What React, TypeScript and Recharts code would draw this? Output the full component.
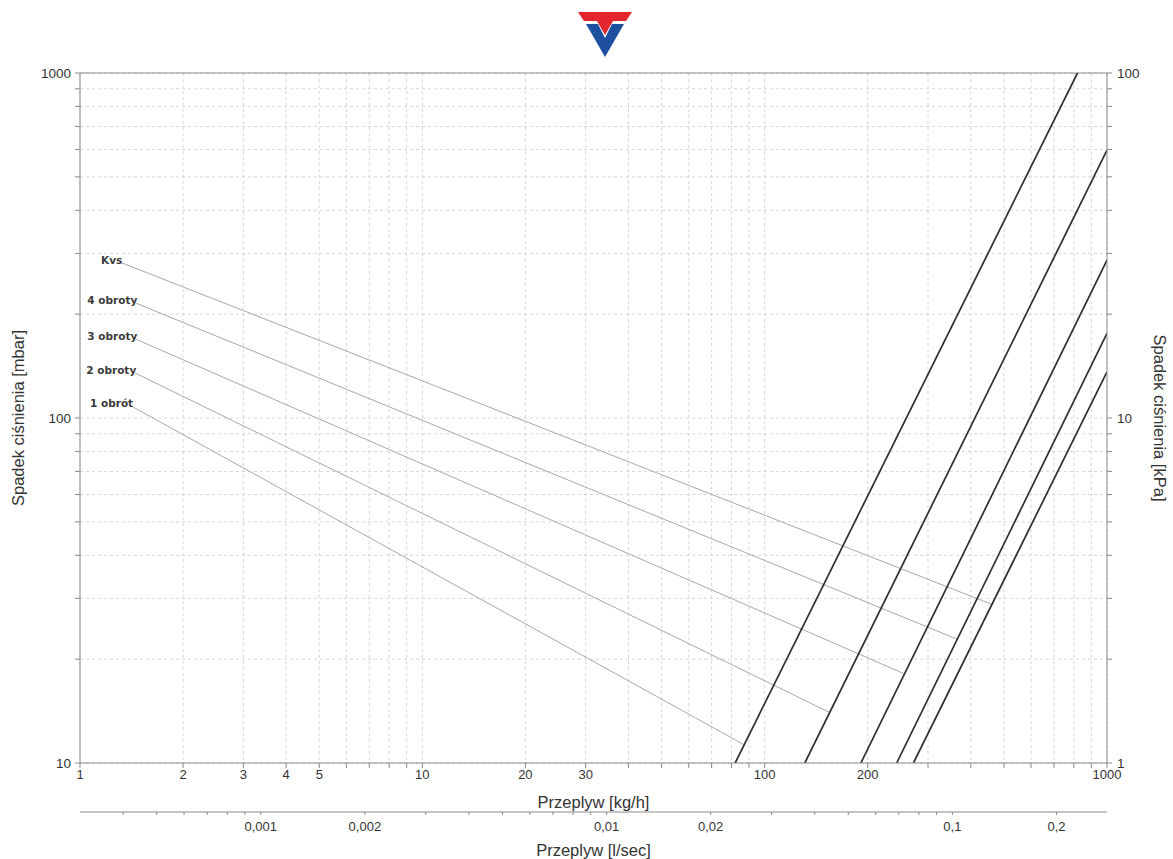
import { CartesianGrid, Line, LineChart, ReferenceLine, XAxis, YAxis } from 'recharts';

type Pt = { q: number; dp: number };

// flow [kg/h] against pressure drop [mbar]
const curve1: Pt[] = [
  { q: 82, dp: 10 },
  { q: 820, dp: 1000 },
];
const curve2: Pt[] = [
  { q: 131, dp: 10 },
  { q: 1000, dp: 598 },
];
const curve3: Pt[] = [
  { q: 191, dp: 10 },
  { q: 1000, dp: 287 },
];
const curve4: Pt[] = [
  { q: 243, dp: 10 },
  { q: 1000, dp: 176 },
];
const curveKvs: Pt[] = [
  { q: 272, dp: 10 },
  { q: 1000, dp: 136 },
];

// leader lines from each label down to its curve
const lead1: Pt[] = [
  { q: 1.42, dp: 108 },
  { q: 87, dp: 11.3 },
];
const lead2: Pt[] = [
  { q: 1.45, dp: 135 },
  { q: 155, dp: 14 },
];
const lead3: Pt[] = [
  { q: 1.46, dp: 169 },
  { q: 257, dp: 18.1 },
];
const lead4: Pt[] = [
  { q: 1.46, dp: 215 },
  { q: 367, dp: 22.8 },
];
const leadKvs: Pt[] = [
  { q: 1.32, dp: 282 },
  { q: 462, dp: 28.8 },
];

const openingNames = ['1 obrót', '2 obroty', '3 obroty', '4 obroty', 'Kvs'];
const curves = [curve1, curve2, curve3, curve4, curveKvs];
const leaders = [lead1, lead2, lead3, lead4, leadKvs];

const kgTicks = [
  1, 2, 3, 4, 5, 6, 7, 8, 9, 10, 20, 30, 40, 50, 60, 70, 80, 90, 100, 200, 300, 400, 500, 600,
  700, 800, 900, 1000,
];
const kgLabels = [1, 2, 3, 4, 5, 10, 20, 30, 100, 200, 1000];

// second flow scale in l/sec
const lsTicks = [
  0.0004, 0.0005, 0.0006, 0.0007, 0.0008, 0.0009, 0.001, 0.002, 0.003, 0.004, 0.005, 0.006, 0.007,
  0.008, 0.009, 0.01, 0.02, 0.03, 0.04, 0.05, 0.06, 0.07, 0.08, 0.09, 0.1, 0.2,
];
const lsLabels = [0.001, 0.002, 0.01, 0.02, 0.1, 0.2];
const lsRange = [
  { ls: 0.0003, dp: 10 },
  { ls: 0.28, dp: 10 },
];

const mbarTicks = [
  10, 20, 30, 40, 50, 60, 70, 80, 90, 100, 200, 300, 400, 500, 600, 700, 800, 900, 1000,
];
const mbarLabels = [10, 100, 1000];

const kpaTicks = [1, 2, 3, 4, 5, 6, 7, 8, 9, 10, 20, 30, 40, 50, 60, 70, 80, 90, 100];
const kpaLabels = [1, 10, 100];

const FONT = '"Liberation Sans", Arial, sans-serif';
const tickStyle = { fontSize: 13, fill: '#333', fontFamily: FONT };
const yTickStyle = { fontSize: 13.5, fill: '#333', fontFamily: FONT };
const titleStyle = { fontSize: 16.5, fill: '#333', fontFamily: FONT };

const leaderLabel = (name: string) => (props: any) => {
  if (props.index !== 0) return null;
  return (
    <text
      x={Number(props.x) + 1}
      y={Number(props.y) + 1}
      textAnchor="end"
      fontSize={10.5}
      fontWeight="bold"
      fontFamily='"DejaVu Sans", Verdana, sans-serif'
      fill="#3a3a3a"
    >
      {name}
    </text>
  );
};

function Logo() {
  return (
    <svg
      width={1173}
      height={70}
      style={{ position: 'absolute', left: 0, top: 0, pointerEvents: 'none' }}
    >
      <polygon points="578,12 632,12 626,21 613,21 605,35 597,21 584,21" fill="#e3252d" />
      <polygon points="586,24 598,24 605,38 612,24 624,24 605,57" fill="#1f4f9f" />
    </svg>
  );
}

export default function App() {
  return (
    <div
      style={{
        position: 'absolute',
        left: 0,
        top: 0,
        width: 1173,
        height: 859,
        background: '#fff',
        fontFamily: FONT,
      }}
    >
      <LineChart width={1173} height={859} margin={{ top: 73, right: 0, bottom: 0, left: 0 }}>
        <CartesianGrid xAxisId="kg" yAxisId="mbar" stroke="#d6d6d6" strokeDasharray="3 3" />
        <XAxis
          xAxisId="kg"
          type="number"
          dataKey="q"
          scale="log"
          domain={[1, 1000]}
          allowDataOverflow
          ticks={kgTicks}
          interval={0}
          height={49}
          tickSize={5}
          tickMargin={2}
          stroke="#8a8a8a"
          tick={tickStyle}
          tickFormatter={(v: number) => (kgLabels.includes(v) ? String(v) : '')}
          label={{ value: 'Przeplyw  [kg/h]', position: 'insideBottom', offset: 4, style: titleStyle }}
        />
        <XAxis
          xAxisId="ls"
          type="number"
          dataKey="ls"
          scale="log"
          domain={[0.0003, 0.28]}
          allowDataOverflow
          ticks={lsTicks}
          interval={0}
          height={47}
          tickSize={3}
          tickMargin={7}
          stroke="#8a8a8a"
          tick={tickStyle}
          tickFormatter={(v: number) => (lsLabels.includes(v) ? String(v).replace('.', ',') : '')}
          label={{ value: 'Przeplyw  [l/sec]', position: 'insideBottom', offset: 3, style: titleStyle }}
        />
        <YAxis
          yAxisId="mbar"
          type="number"
          dataKey="dp"
          scale="log"
          domain={[10, 1000]}
          allowDataOverflow
          ticks={mbarTicks}
          interval={0}
          width={80}
          tickSize={5}
          tickMargin={4}
          stroke="#8a8a8a"
          tick={yTickStyle}
          tickFormatter={(v: number) => (mbarLabels.includes(v) ? String(v) : '')}
          label={{
            value: 'Spadek ciśnienia [mbar]',
            angle: -90,
            position: 'insideLeft',
            offset: 18,
            style: { ...titleStyle, textAnchor: 'middle' },
          }}
        />
        <YAxis
          yAxisId="kpa"
          orientation="right"
          type="number"
          scale="log"
          domain={[1, 100]}
          allowDataOverflow
          ticks={kpaTicks}
          interval={0}
          width={66}
          tickSize={5}
          tickMargin={5}
          stroke="#8a8a8a"
          tick={{ ...yTickStyle, textAnchor: 'start' }}
          tickFormatter={(v: number) => (kpaLabels.includes(v) ? String(v) : '')}
          label={{
            value: 'Spadek ciśnienia [kPa]',
            angle: 90,
            position: 'insideRight',
            offset: 13,
            style: { ...titleStyle, textAnchor: 'middle' },
          }}
        />
        <ReferenceLine xAxisId="kg" yAxisId="mbar" y={1000} stroke="#8a8a8a" />
        <Line
          xAxisId="ls"
          yAxisId="mbar"
          data={lsRange}
          dataKey="dp"
          stroke="none"
          dot={false}
          activeDot={false}
          isAnimationActive={false}
        />
        {leaders.map((d, i) => (
          <Line
            key={`lead-${i}`}
            xAxisId="kg"
            yAxisId="mbar"
            data={d}
            dataKey="dp"
            type="linear"
            stroke="#a8a8a8"
            strokeWidth={1}
            dot={false}
            activeDot={false}
            isAnimationActive={false}
            label={leaderLabel(openingNames[i])}
          />
        ))}
        {curves.map((d, i) => (
          <Line
            key={`curve-${i}`}
            xAxisId="kg"
            yAxisId="mbar"
            data={d}
            dataKey="dp"
            type="linear"
            stroke="#2e2e2e"
            strokeWidth={1.7}
            dot={false}
            activeDot={false}
            isAnimationActive={false}
          />
        ))}
      </LineChart>
      <Logo />
    </div>
  );
}
